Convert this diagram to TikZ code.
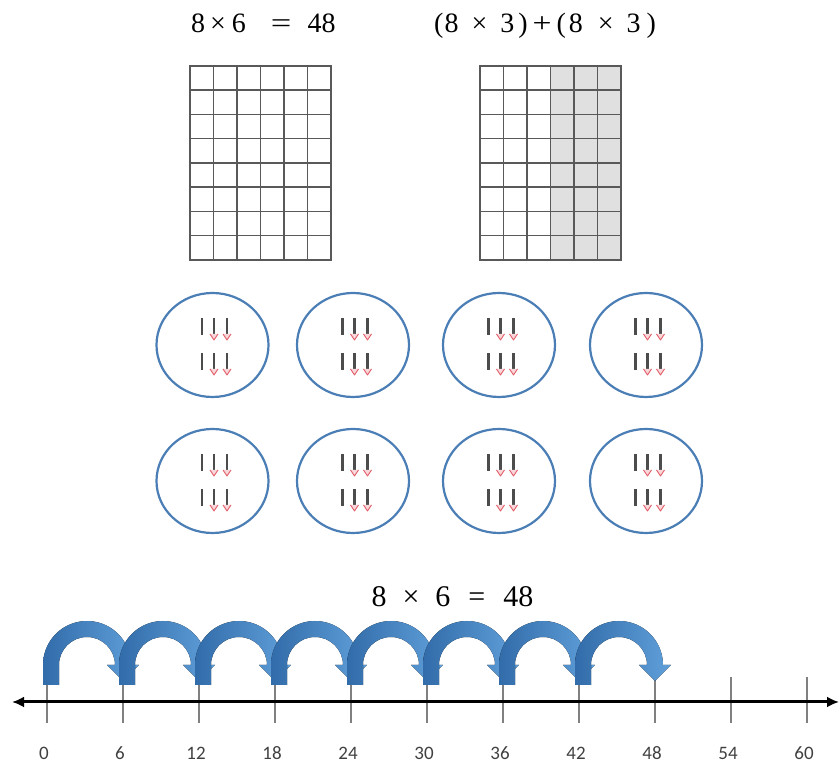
\documentclass[tikz,border=0pt]{standalone}
\usepackage{fontspec}
\setmainfont{Liberation Serif}
\newfontfamily\calibri{Carlito}
\usetikzlibrary{shapes.geometric, arrows.meta, positioning, calc}

\definecolor{ringblue}{RGB}{74,126,181}
\definecolor{hopdark}{RGB}{50,108,170}
\definecolor{hoplight}{RGB}{96,160,218}
\definecolor{stickred}{RGB}{226,92,104}

\begin{document}
\begin{tikzpicture}[x=1pt, y=1pt,
    gridline/.style={draw=black!65, line width=1.5pt},
    ring/.style={draw=ringblue, line width=2.2pt, ellipse, minimum width=112pt, minimum height=104pt},
    stick/.style={draw=black!70, line width=2.6pt},
    dropred/.style={draw=stickred, fill=stickred!25, line width=0.9pt, line join=round},
    hop/.style={left color=hopdark, right color=hoplight},
    tickline/.style={draw=black!50, line width=1.4pt},
    num/.style={font=\calibri\fontsize{19}{21}\selectfont, text=black!75, inner sep=0pt, anchor=base}]

    \useasboundingbox (0,0) rectangle (839,765);

    % Equations
    \node[anchor=base west, inner sep=0pt, font=\fontsize{28}{30}\selectfont] (eqA) at (191,732)
        {8\hspace{5pt}×\hspace{6pt}6\hspace{25pt}\scalebox{1.3}[1]{=}\hspace{16pt}48};
    \node[anchor=base west, inner sep=0pt, font=\fontsize{28}{30}\selectfont] (eqB) at (434,732)
        {(\hspace{1pt}8\hspace{13pt}×\hspace{13pt}3\hspace{4pt})\hspace{5pt}\scalebox{1.2}[1]{+}\hspace{5pt}(\hspace{3pt}8\hspace{15pt}×\hspace{13pt}3\hspace{6pt})};
    \node[anchor=base west, font=\fontsize{30}{32}\selectfont] (eqC) at (368,158)
        {8\hspace{16pt}×\hspace{16pt}6\hspace{18pt}=\hspace{18pt}48};

    % Arrays
    \draw[gridline, shift={(190,505)}] (0,0) grid[xstep=23.5, ystep=24.25] (141,194);
    \draw[gridline] (190,505) rectangle (331,699);
    \fill[black!12] (550.5,505) rectangle (621,699);
    \draw[gridline, shift={(480,505)}] (0,0) grid[xstep=23.5, ystep=24.25] (141,194);
    \draw[gridline] (480,505) rectangle (621,699);

    % Groups
    \foreach \x [count=\k] in {212.5,353,499,646} {
        \node[ring] (top\k) at (\x,420) {};
        \node[ring] (bot\k) at (\x,284) {};
    }
    \foreach \g in {top1,top2,top3,top4,bot1,bot2,bot3,bot4} {
        \foreach \dy in {10,-25} {
            \draw[stick] ([shift={(-10.5,\dy)}]\g.center) -- ++(0,17);
            \foreach \dx in {1.5,14.5} {
                \draw[stick] ([shift={(\dx,\dy)}]\g.center) -- ++(0,17);
                \draw[dropred] ([shift={(\dx-4,\dy+1)}]\g.center) -- ++(4,-6) -- ++(4,6);
            }
        }
    }

    % Number line
    \foreach \v [count=\k] in {0,6,...,60} {
        \coordinate (t\v) at (47+76*\k-76,63);
        \draw[tickline] ([yshift=-21]t\v) -- ([yshift=25]t\v);
        \node[num] (n\v) at ([xshift=-3, yshift=-58]t\v) {\v};
    }
    \coordinate (L) at (12,63);
    \coordinate (R) at (839,63);
    \draw[line width=3pt, {Latex[length=12pt,width=11pt]}-{Latex[length=12pt,width=11pt]}] (L) -- (R);

    % Jumps
    \foreach \i in {0,...,7} {
        \fill[hop, shift={(47+76*\i,0)}] (-4,80) -- (-4,100) arc[start angle=180, end angle=0, radius=44]
            -- (92,100) -- (76,84) -- (60,100) -- (68,100) arc[start angle=0, end angle=180, radius=28]
            -- (12,80) -- cycle;
    }
\end{tikzpicture}
\end{document}
